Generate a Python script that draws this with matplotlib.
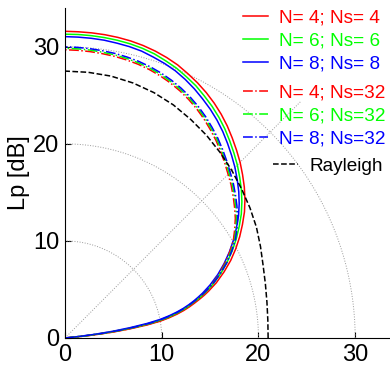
import numpy as np
import matplotlib
matplotlib.use('Agg')
import matplotlib.pyplot as plt

plt.rcParams['font.family'] = ['Liberation Sans', 'DejaVu Sans']

# angle (deg) and Lp (dB)
angles = [0, 4, 5, 6, 7, 8, 9, 10, 11, 12, 13, 14, 15, 16, 17, 18, 20,
          22.5, 25, 27.5, 30, 32.5, 35, 37.5, 40, 42.5, 45, 47.5, 50, 52.5, 55,
          57.5, 60, 62.5, 65, 67.5, 70, 72.5, 75, 77.5, 80, 82.5, 85, 87.5, 90]

lp_n4_ns4 = [0, 0, 1.0, 3.0, 5.0, 6.8, 8.6, 10.0, 11.0, 11.85, 12.6, 13.25, 13.85, 14.45, 15.05, 15.6, 16.65,
             17.8, 18.9, 19.9, 20.85, 21.75, 22.65, 23.45, 24.2, 24.9, 25.6, 26.25, 26.9, 27.55, 28.15,
             28.7, 29.2, 29.65, 30.05, 30.45, 30.75, 31.0, 31.2, 31.35, 31.45, 31.52, 31.56, 31.58, 31.6]
lp_n6_ns6 = [0, 0, 0.5, 2.0, 4.0, 5.9, 7.7, 9.3, 10.5, 11.45, 12.25, 12.95, 13.55, 14.15, 14.75, 15.3, 16.3,
             17.45, 18.5, 19.5, 20.45, 21.35, 22.25, 23.05, 23.8, 24.5, 25.2, 25.85, 26.5, 27.15, 27.75,
             28.3, 28.8, 29.3, 29.7, 30.1, 30.4, 30.7, 30.9, 31.05, 31.15, 31.22, 31.27, 31.3, 31.3]
lp_n8_ns8 = [0, 0, 0, 1.0, 3.0, 5.0, 6.8, 8.6, 10.0, 11.0, 11.85, 12.6, 13.25, 13.85, 14.4, 14.95, 15.95,
             17.1, 18.15, 19.15, 20.1, 21.0, 21.9, 22.7, 23.45, 24.15, 24.85, 25.5, 26.15, 26.8, 27.4,
             27.95, 28.45, 28.95, 29.4, 29.8, 30.1, 30.35, 30.6, 30.75, 30.85, 30.95, 31.0, 31.03, 31.05]
lp_n4_ns32 = [0, 0, 0.8, 2.5, 4.5, 6.4, 8.2, 9.8, 10.8, 11.7, 12.4, 13.0, 13.6, 14.15, 14.7, 15.2, 16.2,
              17.25, 18.25, 19.2, 20.1, 20.8, 21.5, 22.1, 22.7, 23.3, 23.85, 24.45, 25.05, 25.65, 26.2,
              26.75, 27.25, 27.7, 28.1, 28.45, 28.75, 29.0, 29.2, 29.35, 29.47, 29.55, 29.62, 29.67, 29.7]
lp_n6_ns32 = [0, 0, 0.5, 2.2, 4.2, 6.1, 7.9, 9.5, 10.6, 11.5, 12.25, 12.9, 13.5, 14.1, 14.65, 15.2, 16.25,
              17.35, 18.4, 19.35, 20.25, 20.95, 21.65, 22.25, 22.85, 23.45, 24.0, 24.6, 25.2, 25.8, 26.35,
              26.9, 27.4, 27.85, 28.25, 28.6, 28.9, 29.15, 29.35, 29.5, 29.62, 29.7, 29.78, 29.82, 29.85]
lp_n8_ns32 = [0, 0, 0, 1.6, 3.7, 5.7, 7.5, 9.1, 10.3, 11.25, 12.05, 12.75, 13.4, 14.0, 14.6, 15.15, 16.25,
              17.4, 18.5, 19.45, 20.35, 21.1, 21.8, 22.4, 23.0, 23.6, 24.15, 24.75, 25.35, 25.95, 26.5,
              27.05, 27.55, 28.0, 28.4, 28.75, 29.05, 29.3, 29.5, 29.65, 29.77, 29.85, 29.92, 29.97, 30.0]

rayleigh_angles = [0, 5, 10, 15, 20, 25, 30, 35, 40, 45, 50, 55, 60, 65, 70, 75, 80, 85, 90]
lp_rayleigh = [21.0, 21.05, 21.2, 21.45, 21.8, 22.3, 22.85, 23.35, 23.85, 24.4, 24.95, 25.5, 26.0,
               26.5, 26.9, 27.2, 27.4, 27.48, 27.5]

labels_a = ['N= 4; Ns= 4', 'N= 6; Ns= 6', 'N= 8; Ns= 8']
labels_b = ['N= 4; Ns=32', 'N= 6; Ns=32', 'N= 8; Ns=32']
colors = ['#ff0000', '#00ff00', '#0000ff']


def to_xy(ang, r):
    t = np.deg2rad(ang)
    r = np.asarray(r)
    return r * np.cos(t), r * np.sin(t)


fig = plt.figure(figsize=(3.9, 3.67), dpi=100)
ax = fig.add_axes([65 / 390, 29 / 367, 325 / 390, 330 / 367])

# polar grid
t = np.linspace(0, np.pi / 2, 200)
for rr in [10, 20, 30]:
    ax.plot(rr * np.cos(t), rr * np.sin(t), ls=':', color='0.6', lw=0.7)
ax.plot([0, 34.5 * np.cos(np.pi / 4)], [0, 34.5 * np.sin(np.pi / 4)], ls=':', color='0.6', lw=0.7)

h_a = []
for lp, c in zip([lp_n4_ns4, lp_n6_ns6, lp_n8_ns8], colors):
    x, y = to_xy(angles, lp)
    h_a.append(ax.plot(x, y, '-', color=c, lw=1.1)[0])
h_b = []
for lp, c in zip([lp_n4_ns32, lp_n6_ns32, lp_n8_ns32], colors):
    x, y = to_xy(angles, lp)
    h_b.append(ax.plot(x, y, '-.', color=c, lw=1.1)[0])
x, y = to_xy(rayleigh_angles, lp_rayleigh)
h_r = ax.plot(x, y, '--', color='k', lw=1.1)[0]

ax.set_xlim(0, 33.6)
ax.set_ylim(0, 34)
ax.set_xticks([0, 10, 20, 30])
ax.set_yticks([0, 10, 20, 30])
ax.tick_params(direction='in', length=4, labelsize=17, pad=4)
ax.spines['top'].set_visible(False)
ax.spines['right'].set_visible(False)
ax.set_ylabel('Lp [dB]', fontsize=17, labelpad=2)

kw = dict(frameon=False, fontsize=13.7, labelcolor='linecolor', handlelength=1.3,
          handletextpad=0.6, labelspacing=0.3, borderpad=0, borderaxespad=0,
          loc='upper left', bbox_transform=fig.transFigure)
leg1 = ax.legend(h_a, labels_a, bbox_to_anchor=(243 / 390, 1 - 9.5 / 367), **kw)
ax.add_artist(leg1)
leg2 = ax.legend(h_b, labels_b, bbox_to_anchor=(243 / 390, 1 - 84.5 / 367), **kw)
ax.add_artist(leg2)
ax.legend([h_r], ['Rayleigh'], bbox_to_anchor=(273 / 390, 1 - 157.5 / 367), **kw)

fig.savefig('out.png', dpi=100)
